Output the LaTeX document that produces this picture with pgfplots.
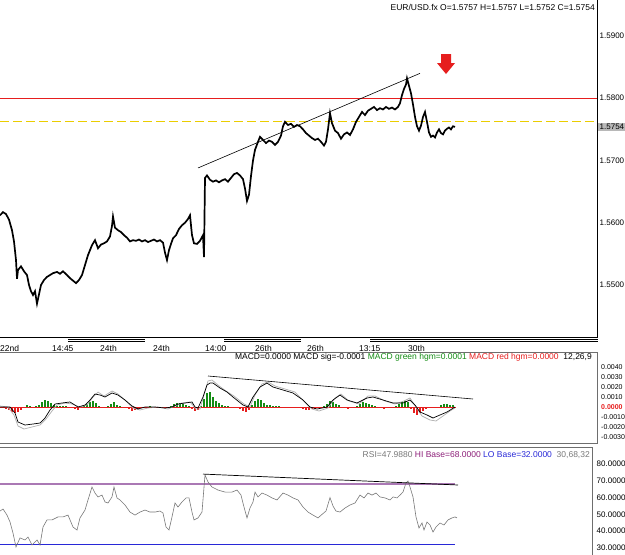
\documentclass[border=0pt]{standalone}
\usepackage{pgfplots}
\pgfplotsset{compat=1.18}
\usepackage{fontspec}
\setmainfont{Liberation Sans}
\definecolor{hgreen}{RGB}{20,140,20}
\definecolor{hred}{RGB}{230,30,30}
\definecolor{dashyellow}{RGB}{235,205,0}
\definecolor{sig}{RGB}{175,175,175}
\definecolor{rsig}{RGB}{120,120,120}
\definecolor{hipurple}{RGB}{170,120,180}
\definecolor{hitext}{RGB}{140,30,120}
\definecolor{loblue}{RGB}{40,40,215}
\definecolor{frame}{RGB}{110,110,110}
\newcommand{\tf}{\fontsize{8.5}{10}\selectfont}
\newcommand{\mf}{\fontsize{8}{9.5}\selectfont}
\newcommand{\smf}{\fontsize{7}{8.5}\selectfont}
\pgfplotsset{
  panel/.style={scale only axis, width=597pt, xmin=0, xmax=597, anchor=north west,
    axis line style={draw=none}, major tick length=0pt, clip=false,
    yticklabel pos=right, xtick=\empty, scaled y ticks=false,
    yticklabel style={anchor=west, inner sep=0pt, xshift=2.5pt, font=\mf},
  }
}
\begin{document}
\tf
\begin{tikzpicture}[x=1pt,y=1pt]
\useasboundingbox (0,0) rectangle (625,-555);
% ---------------- main price panel
\begin{axis}[panel, at={(0pt,0pt)}, height=337pt, ymin=1.541647, ymax=1.59578,
  ytick={1.55,1.56,1.57,1.58,1.59},
  yticklabels={1.5500,1.5600,1.5700,1.5800,1.5900},
  xtick={0,52,100,153,205,255,307,359,408},
  xticklabels={22nd,14:45,24th,24th,14:00,26th,26th,13:15,30th},
  xticklabel style={anchor=north west, inner sep=0pt, yshift=-8pt, font=\tf}]
\addplot[hred, line width=0.8pt] coordinates {(0,1.5800) (597,1.5800)};
\addplot[color=dashyellow, line width=1.4pt, dash pattern=on 9pt off 4pt] coordinates {(0,1.5763) (597,1.5763)};
\addplot[black, line width=1.7pt] coordinates {
(0,1.5612)(3,1.5617)(6,1.5614)(9,1.5605)(12,1.5588)(14,1.5570)(16,1.5540)(17,1.5510)(18,1.5524)(21,1.5530)(24,1.5522)
(27,1.5516)(29,1.5500)(31,1.5490)(33,1.5484)(35,1.5490)(37,1.5470)(39,1.5485)(41,1.5500)(44,1.5508)(47,1.5513)
(50,1.5516)(53,1.5519)(57,1.5521)(60,1.5518)(63,1.5522)(67,1.5516)(70,1.5511)(73,1.5507)(76,1.5503)(79,1.5508)
(82,1.5516)(85,1.5532)(88,1.5548)(90,1.5556)(92,1.5564)(95,1.5572)(98,1.5559)(101,1.5565)(104,1.5567)(107,1.5570)
(110,1.5578)(112,1.5595)(113,1.5610)(115,1.5592)(118,1.5588)(121,1.5585)(124,1.5580)(127,1.5576)(130,1.5570)
(133,1.5572)(136,1.5571)(139,1.5573)(142,1.5570)(145,1.5572)(148,1.5569)(151,1.5571)(154,1.5573)(157,1.5570)
(160,1.5572)(163,1.5568)(165,1.5552)(167,1.5540)(169,1.5556)(171,1.5566)(173,1.5575)(176,1.5580)(179,1.5590)
(182,1.5596)(185,1.5600)(188,1.5606)(190,1.5612)(192,1.5580)(194,1.5567)(197,1.5566)(200,1.5571)(203,1.5580)
(204,1.5545)(205,1.5672)(207,1.5676)(210,1.5669)(213,1.5666)(216,1.5668)(219,1.5665)(222,1.5668)(225,1.5670)
(228,1.5666)(231,1.5672)(234,1.5678)(237,1.5680)(240,1.5676)(243,1.5670)(245,1.5655)(247,1.5635)(249,1.5645)
(251,1.5675)(253,1.5700)(255,1.5717)(258,1.5730)(260,1.5738)(263,1.5733)(266,1.5728)(269,1.5732)(272,1.5730)
(275,1.5725)(278,1.5730)(281,1.5740)(283,1.5755)(285,1.5762)(288,1.5757)(291,1.5759)(294,1.5754)(297,1.5757)
(300,1.5755)(303,1.5750)(306,1.5744)(309,1.5740)(312,1.5736)(315,1.5733)(318,1.5735)(321,1.5730)(324,1.5724)
(326,1.5730)(328,1.5750)(330,1.5776)(332,1.5760)(335,1.5748)(338,1.5744)(341,1.5735)(344,1.5742)(347,1.5745)
(350,1.5741)(353,1.5750)(356,1.5762)(359,1.5770)(362,1.5778)(365,1.5773)(368,1.5780)(371,1.5783)(374,1.5786)
(377,1.5781)(380,1.5784)(383,1.5782)(386,1.5786)(389,1.5783)(392,1.5785)(395,1.5782)(398,1.5786)(400,1.5792)
(402,1.5805)(404,1.5815)(406,1.5822)(407,1.5832)(409,1.5820)(411,1.5808)(413,1.5790)(415,1.5770)(417,1.5755)
(419,1.5748)(421,1.5756)(423,1.5770)(425,1.5778)(427,1.5762)(429,1.5745)(431,1.5738)(433,1.5740)(435,1.5737)
(437,1.5745)(439,1.5750)(441,1.5744)(443,1.5742)(445,1.5748)(447,1.5751)(449,1.5753)(451,1.5750)(453,1.5755)(455,1.5754)};
\addplot[black, line width=0.6pt] coordinates {(198,1.5688) (420,1.5840)};
\fill[hred] (axis cs:441,1.58710) -- (axis cs:451,1.58710) -- (axis cs:451,1.58565) -- (axis cs:455,1.58565)
  -- (axis cs:446,1.58389) -- (axis cs:437,1.58565) -- (axis cs:441,1.58565) -- cycle;
\node[anchor=west, fill=black!28, inner xsep=1.5pt, inner ysep=1.5pt, font=\mf] at (axis cs:598,1.5754) {1.5754};
\end{axis}
\node[anchor=east, inner sep=0pt, font=\tf] at (595,-7) {EUR/USD.fx O=1.5757 H=1.5757 L=1.5752 C=1.5754};
\draw[black, line width=0.7pt] (597,0) -- (597,-337) -- (0,-337);
\draw[black, line width=0.7pt] (68,-339) -- (145,-339) (68,-341) -- (145,-341)
  (224,-339) -- (301,-339) (224,-341) -- (301,-341) (370,-339) -- (598,-339) (370,-341) -- (598,-341);
% ---------------- MACD panel
\begin{axis}[panel, at={(0pt,-352pt)}, height=91pt, ymin=-0.0036, ymax=0.0055,
  ytick={-0.003,-0.002,-0.001,0,0.001,0.002,0.003,0.004},
  yticklabel style={anchor=west, inner sep=0pt, xshift=1.5pt, font=\smf},
  yticklabels={-0.0030,-0.0020,-0.0010,{\textcolor{hred}{\textbf{0.0000}}},0.0010,0.0020,0.0030,0.0040}]
\addplot[ycomb, hgreen, line width=1.4pt] coordinates {
(27,.0002)(30,.0001)(36,.0001)(39,.0002)(42,.0005)(45,.0007)(48,.0006)(51,.0004)(54,.0002)(57,.0001)(60,.0001)
(63,.0001)(66,.0001)(84,.0001)(87,.0003)(90,.0005)(93,.0006)(96,.0004)(99,.0001)(108,.0001)(111,.0003)(114,.0005)
(117,.0002)(120,.0001)(150,.0001)(171,.0001)(174,.0003)(177,.0004)(180,.0004)(183,.0003)(186,.0002)(189,.0001)
(201,.0001)(204,.0008)(207,.0014)(210,.0015)(213,.0010)(216,.0006)(219,.0004)(222,.0002)(225,.0001)(228,.0001)
(252,.0002)(255,.0006)(258,.0008)(261,.0007)(264,.0004)(267,.0002)(270,.0002)(273,.0001)(276,.0001)(279,.0001)
(324,.0001)(327,.0003)(330,.0006)(333,.0005)(336,.0003)(339,.0002)(357,.0001)(360,.0003)(363,.0005)(366,.0004)
(369,.0003)(372,.0002)(375,.0001)(396,.0001)(399,.0003)(402,.0005)(405,.0006)(408,.0005)(441,.0002)(444,.0003)
(447,.0003)(450,.0002)(453,.0002)};
\addplot[ycomb, hred, line width=1.4pt] coordinates {
(3,-.0001)(6,-.0002)(9,-.0003)(12,-.0005)(15,-.0006)(18,-.0005)(21,-.0003)(24,-.0001)(72,-.0001)(75,-.0002)
(78,-.0003)(81,-.0001)(102,-.0001)(105,-.0001)(126,-.0001)(129,-.0002)(132,-.0004)(135,-.0003)(138,-.0002)
(141,-.0001)(156,-.0001)(165,-.0001)(192,-.0002)(195,-.0004)(198,-.0003)(237,-.0001)(240,-.0002)(243,-.0004)
(246,-.0005)(249,-.0003)(285,-.0001)(288,-.0001)(294,-.0001)(297,-.0001)(300,-.0001)(303,-.0002)(306,-.0003)
(309,-.0003)(312,-.0002)(315,-.0002)(318,-.0001)(345,-.0001)(348,-.0002)(351,-.0001)(378,-.0001)(381,-.0001)
(384,-.0002)(387,-.0001)(390,-.0001)(411,-.0002)(414,-.0006)(417,-.0008)(420,-.0006)(423,-.0004)(426,-.0002)
(429,-.0001)(432,-.0001)(435,-.0001)};
\addplot[hred, line width=1pt] coordinates {(0,0) (456,0)};
\addplot[sig, line width=0.7pt] coordinates {
(0,.0001)(8,0)(14,-.0008)(18,-.0019)(24,-.0022)(32,-.0020)(40,-.0018)(46,-.0012)(52,-.0004)(57,.0002)(65,.0004)
(72,.0003)(80,0)(87,.0002)(93,.0010)(98,.0015)(104,.0011)(112,.0016)(118,.0013)(126,.0006)(133,-.0001)(140,-.0003)
(148,-.0001)(158,0)(168,-.0002)(175,.0001)(182,.0004)(190,.0005)(196,-.0002)(200,-.0002)(204,.0012)(208,.0026)
(212,.0027)(218,.0022)(226,.0016)(234,.0011)(244,.0003)(250,0)(255,.0012)(262,.0023)(268,.0025)(275,.0021)
(285,.0018)(295,.0015)(305,.0005)(312,-.0002)(319,-.0004)(328,-.0001)(335,.0009)(341,.0013)(349,.0006)(359,.0003)
(368,.0011)(375,.0011)(385,.0006)(395,.0003)(404,.0006)(410,.0009)(416,0)(422,-.0009)(430,-.0013)(436,-.0014)
(443,-.0009)(450,-.0004)(455,-.0001)};
\addplot[black, line width=0.7pt] coordinates {
(0,0)(10,0)(15,-.0006)(18,-.0015)(25,-.0018)(33,-.0017)(40,-.0016)(45,-.0011)(50,-.0003)(55,.0003)(62,.0004)
(70,.0005)(78,0)(85,.0002)(90,.0007)(95,.0013)(100,.0012)(105,.0010)(112,.0014)(118,.0012)(125,.0007)(132,.0001)
(138,-.0002)(145,0)(155,0)(165,-.0001)(172,0)(178,.0003)(185,.0004)(192,.0005)(195,0)(198,-.0001)(203,.0010)
(207,.0022)(210,.0024)(213,.0024)(220,.0019)(227,.0015)(233,.0010)(243,.0002)(248,0)(253,.0010)(260,.0020)
(267,.0024)(273,.0020)(283,.0017)(293,.0014)(303,.0007)(310,0)(317,-.0002)(327,0)(333,.0007)(340,.0012)(347,.0007)
(357,.0004)(367,.0009)(373,.0010)(383,.0007)(393,.0004)(403,.0004)(410,.0007)(415,.0002)(420,-.0005)(427,-.0008)
(433,-.0011)(440,-.0008)(447,-.0005)(455,0)};
\addplot[black, line width=0.6pt] coordinates {(208,.0031) (473,.0008)};
\end{axis}
\draw[frame, line width=0.7pt] (0,-352) -- (597,-352) -- (597,-443) -- (0,-443);
\node[anchor=east, inner sep=0pt, font=\tf] at (592,-357) {MACD=0.0000 MACD sig=-0.0001 \textcolor{hgreen}{MACD green hgm=0.0001} \textcolor{hred}{MACD red hgm=0.0000}\ \ 12,26,9};
% ---------------- RSI panel
\begin{axis}[panel, at={(0pt,-447pt)}, height=108pt, width=592pt, xmax=592, ymin=25.83, ymax=90.12,
  ytick={30,40,50,60,70,80},
  yticklabel style={anchor=west, inner sep=0pt, xshift=2pt, font=\mf},
  yticklabels={30.0000,40.0000,50.0000,60.0000,70.0000,80.0000}]
\addplot[hipurple, line width=1.6pt] coordinates {(0,68) (455,68)};
\addplot[loblue, line width=1pt] coordinates {(0,32) (455,32)};
\addplot[rsig, line width=0.6pt] coordinates {
(0,52.0)(3,53.2)(7,49.6)(10,45.5)(13,38.9)(16,30.6)(20,36.0)(25,34.8)(28,36.5)(32,31.8)(37,34.8)(40,31.8)
(43,42.5)(47,46.7)(52,46.7)(58,48.5)(63,48.5)(68,49.6)(73,42.5)(77,40.7)(80,47.9)(85,52.6)(88,58.6)(92,66.3)
(95,62.7)(98,60.4)(102,61.5)(105,57.4)(108,56.8)(112,60.4)(114,66.3)(117,59.8)(120,58.6)(125,55.6)(130,51.4)
(135,49.6)(140,51.4)(145,52.6)(150,51.4)(155,51.4)(160,52.0)(163,50.8)(166,42.5)(169,40.7)(172,48.5)(175,56.8)
(178,54.4)(182,57.4)(186,59.8)(189,59.8)(192,51.4)(194,46.7)(198,47.9)(202,51.4)(205,73.5)(208,69.3)(212,66.3)
(218,64.5)(225,63.3)(232,63.3)(237,64.5)(241,61.5)(244,54.4)(247,47.9)(250,53.8)(253,57.4)(255,63.3)(258,60.4)
(262,62.7)(267,61.5)(272,59.8)(277,58.6)(283,62.7)(288,61.5)(293,59.8)(298,58.6)(303,54.4)(308,51.4)(313,49.6)
(318,47.9)(322,50.0)(326,52.0)(330,60.0)(333,55.0)(336,52.0)(340,51.4)(345,53.8)(350,55.6)(355,56.8)(360,61.5)
(364,59.8)(368,62.7)(372,61.5)(376,62.7)(380,60.4)(385,59.8)(390,58.6)(393,60.4)(397,59.8)(400,61.5)(403,63.3)
(406,68.7)(408,69.9)(410,66.3)(413,60.4)(416,48.5)(419,41.9)(422,44.9)(424,40.7)(427,45.5)(430,43.7)(433,39.5)
(436,42.5)(440,44.9)(444,43.7)(448,46.7)(452,47.9)(455,48.5)(457,47.9)};
\addplot[black, line width=0.7pt] coordinates {(203,74.0) (458,67.5)};
\end{axis}
\draw[frame, line width=0.7pt] (0,-443.5) -- (597,-443.5);
\draw[frame, line width=0.7pt] (0,-447) -- (592,-447) -- (592,-555);
\node[anchor=east, inner sep=0pt, font=\tf] at (590,-455) {\textcolor{rsig}{RSI=47.9880} \textcolor{hitext}{HI Base=68.0000} \textcolor{loblue}{LO Base=32.0000}\ \ \textcolor{rsig}{30,68,32}};
\end{tikzpicture}
\end{document}
